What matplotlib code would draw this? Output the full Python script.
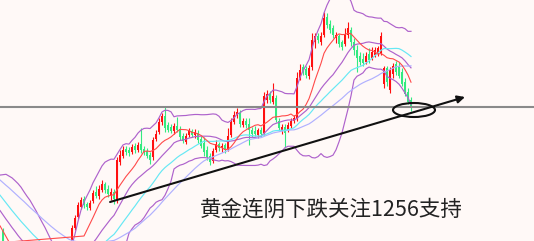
import numpy as np
import pandas as pd
import matplotlib
matplotlib.use("Agg")
import matplotlib.pyplot as plt
from matplotlib.patches import Ellipse

# closes before the visible window (only feed the indicators)
early_close = [1210, 1216, 1213, 1208, 1214, 1219, 1212, 1209, 1215, 1211,
               1206, 1212, 1218, 1214, 1210, 1213, 1217, 1211, 1208, 1214,
               1216, 1212, 1209, 1213, 1218, 1215, 1210, 1212, 1216, 1214,
               1215, 1213, 1208, 1207, 1204, 1199, 1198, 1193, 1192, 1188,
               1184, 1183, 1178, 1176, 1173, 1169, 1167, 1162, 1161, 1157,
               1152, 1151, 1147, 1146, 1141, 1137, 1136, 1132, 1130, 1127, 1125]

opens = [1132, 1097, 1091, 1095, 1087, 1091, 1085, 1089, 1093, 1087, 1083, 1089,
         1092, 1087, 1091, 1095, 1090, 1094, 1098, 1095, 1101, 1105, 1102,
         1108, 1135, 1146, 1156, 1164, 1159, 1155, 1162, 1171, 1167, 1173, 1179,
         1174, 1167, 1171, 1164, 1201, 1207, 1214, 1213, 1211, 1217, 1213, 1219,
         1214, 1212, 1208, 1206, 1224, 1231, 1241, 1247, 1238, 1236, 1232, 1237,
         1234, 1227, 1221, 1228, 1232, 1228, 1230, 1224, 1220, 1213, 1207, 1202,
         1213, 1219, 1215, 1218, 1214, 1228, 1241, 1248, 1250, 1238, 1242, 1239,
         1233, 1232, 1228, 1233, 1230, 1263, 1269, 1261, 1265, 1242, 1232, 1236,
         1233, 1237, 1242, 1244, 1285, 1296, 1294, 1287, 1296, 1321, 1327, 1321,
         1328, 1346, 1339, 1335, 1325, 1327, 1321, 1319, 1328, 1333, 1321, 1313,
         1307, 1304, 1301, 1309, 1305, 1308, 1310, 1310, 1279, 1295, 1273, 1289,
         1299, 1297, 1291, 1281, 1271, 1263]

closes = [1097, 1091, 1095, 1088, 1091, 1085, 1089, 1093, 1087, 1083, 1089, 1092,
          1087, 1091, 1095, 1090, 1094, 1098, 1095, 1101, 1105, 1102, 1108,
          1135, 1145, 1158, 1163, 1158, 1156, 1160, 1170, 1167, 1174, 1179, 1173,
          1169, 1171, 1164, 1203, 1208, 1213, 1211, 1210, 1216, 1213, 1218, 1213,
          1211, 1207, 1203, 1223, 1229, 1241, 1247, 1235, 1233, 1232, 1237, 1233,
          1226, 1222, 1227, 1232, 1228, 1231, 1223, 1217, 1211, 1206, 1201, 1212,
          1219, 1215, 1217, 1213, 1227, 1241, 1248, 1251, 1239, 1242, 1238, 1233,
          1229, 1229, 1233, 1229, 1267, 1269, 1263, 1267, 1243, 1235, 1236, 1230,
          1238, 1242, 1245, 1285, 1293, 1291, 1288, 1295, 1323, 1327, 1323, 1327,
          1345, 1338, 1333, 1328, 1328, 1319, 1316, 1329, 1335, 1321, 1313, 1305,
          1301, 1300, 1307, 1303, 1311, 1313, 1315, 1327, 1295, 1281, 1293, 1297,
          1291, 1287, 1279, 1269, 1261, 1255]

highs = [1135, 1101, 1098, 1098, 1094, 1095, 1092, 1097, 1096, 1091, 1093, 1097,
         1096, 1095, 1099, 1099, 1098, 1103, 1104, 1107, 1111, 1111, 1115,
         1138, 1148, 1161, 1166, 1167, 1161, 1163, 1173, 1177, 1178, 1183, 1181,
         1178, 1175, 1174, 1206, 1213, 1217, 1217, 1216, 1219, 1220, 1221, 1235,
         1217, 1215, 1211, 1226, 1233, 1245, 1250, 1256, 1241, 1239, 1240, 1246,
         1237, 1230, 1230, 1235, 1234, 1234, 1233, 1227, 1226, 1217, 1210, 1215,
         1223, 1221, 1220, 1220, 1235, 1245, 1252, 1255, 1253, 1245, 1245, 1245,
         1236, 1237, 1235, 1236, 1271, 1273, 1272, 1280, 1268, 1245, 1239, 1239,
         1241, 1245, 1248, 1291, 1299, 1299, 1297, 1298, 1330, 1330, 1330, 1331,
         1351, 1350, 1343, 1338, 1331, 1329, 1323, 1335, 1341, 1336, 1325, 1318,
         1311, 1310, 1311, 1315, 1316, 1316, 1317, 1331, 1297, 1297, 1296, 1300,
         1302, 1301, 1295, 1285, 1275, 1266]

lows = [1094, 1087, 1088, 1084, 1084, 1081, 1082, 1086, 1084, 1079, 1080, 1086,
        1084, 1084, 1088, 1087, 1087, 1091, 1092, 1093, 1098, 1099, 1100,
        1105, 1133, 1144, 1154, 1155, 1153, 1153, 1160, 1165, 1164, 1171, 1170,
        1166, 1163, 1159, 1160, 1198, 1205, 1208, 1207, 1209, 1210, 1211, 1210,
        1208, 1205, 1199, 1203, 1222, 1229, 1238, 1231, 1231, 1230, 1229, 1231,
        1223, 1220, 1219, 1226, 1226, 1225, 1220, 1215, 1207, 1203, 1198, 1200,
        1211, 1212, 1211, 1210, 1212, 1226, 1239, 1245, 1236, 1236, 1235, 1218,
        1226, 1227, 1225, 1226, 1228, 1260, 1260, 1259, 1241, 1232, 1229, 1215,
        1231, 1235, 1240, 1242, 1283, 1288, 1285, 1284, 1293, 1315, 1320, 1318,
        1326, 1335, 1330, 1325, 1320, 1316, 1313, 1317, 1325, 1317, 1308, 1291,
        1298, 1297, 1299, 1300, 1303, 1306, 1307, 1308, 1275, 1277, 1270, 1285,
        1288, 1285, 1277, 1267, 1259, 1252]

support = 1256
trend_from = (96.7, 1161)
trend_to = (215.0, 1266)
zone_center = (198.0, 1253)
label = "黄金连阴下跌关注1256支持"

all_close = pd.Series(early_close + closes, dtype=float)
n0 = len(early_close)
idx = np.arange(len(all_close))
cx = np.arange(n0, n0 + len(closes))

o = np.array(opens, float)
c = np.array(closes, float)
h = np.array(highs, float)
l = np.array(lows, float)

ma_fast = all_close.rolling(10, min_periods=1).mean()
ma_mid = all_close.rolling(30, min_periods=1).mean()
ma_slow = all_close.rolling(45, min_periods=1).mean()
bb_mid = all_close.rolling(20, min_periods=1).mean()
bb_std = all_close.rolling(20, min_periods=1).std(ddof=0)
bb_up = bb_mid + 2 * bb_std
bb_dn = bb_mid - 2 * bb_std

bg = "#fff9f7"
fig = plt.figure(figsize=(5.34, 2.41), dpi=100, facecolor=bg)
ax = fig.add_axes([0, 0, 1, 1], facecolor=bg)

up = c >= o
red = "#ff1010"
green = "#33ea80"
cols = np.where(up, red, green)
ax.vlines(cx, l, h, colors=cols, lw=0.8, zorder=2)
body = np.where(np.abs(c - o) < 0.8, 0.8, c - o)
ax.bar(cx, body, bottom=o, width=0.6, color=cols, lw=0, zorder=2)

purple = "#ae62cc"
ax.plot(idx, bb_up, color=purple, lw=0.85, zorder=3)
ax.plot(idx, bb_mid, color=purple, lw=0.85, zorder=3)
ax.plot(idx, bb_dn, color=purple, lw=0.85, zorder=3)
ax.plot(idx, ma_slow, color="#b0b0ff", lw=0.85, zorder=3)
ax.plot(idx, ma_mid, color="#66e8f4", lw=0.85, zorder=3)
ax.plot(idx, ma_fast, color="#ff4a4a", lw=0.8, zorder=3)

ax.axhline(support, color="#8a8a8a", lw=1.5, zorder=4)
ax.annotate("", xy=trend_to, xytext=trend_from,
            arrowprops=dict(arrowstyle="-|>", color="#111111", lw=1.5,
                            mutation_scale=11, shrinkA=0, shrinkB=0),
            zorder=5)
ax.add_patch(Ellipse(zone_center, width=14, height=14, fill=False,
                     ec="#111111", lw=1.5, zorder=5))

ax.text(126.5, 1153, label, fontsize=15.5, color="#222222", ha="left",
        va="center", family=["Noto Sans CJK SC", "DejaVu Sans"], zorder=6)

ax.set_xlim(60, 238)
ax.set_ylim(1122, 1363)
ax.axis("off")

fig.savefig("out.png", dpi=100, facecolor=bg)
